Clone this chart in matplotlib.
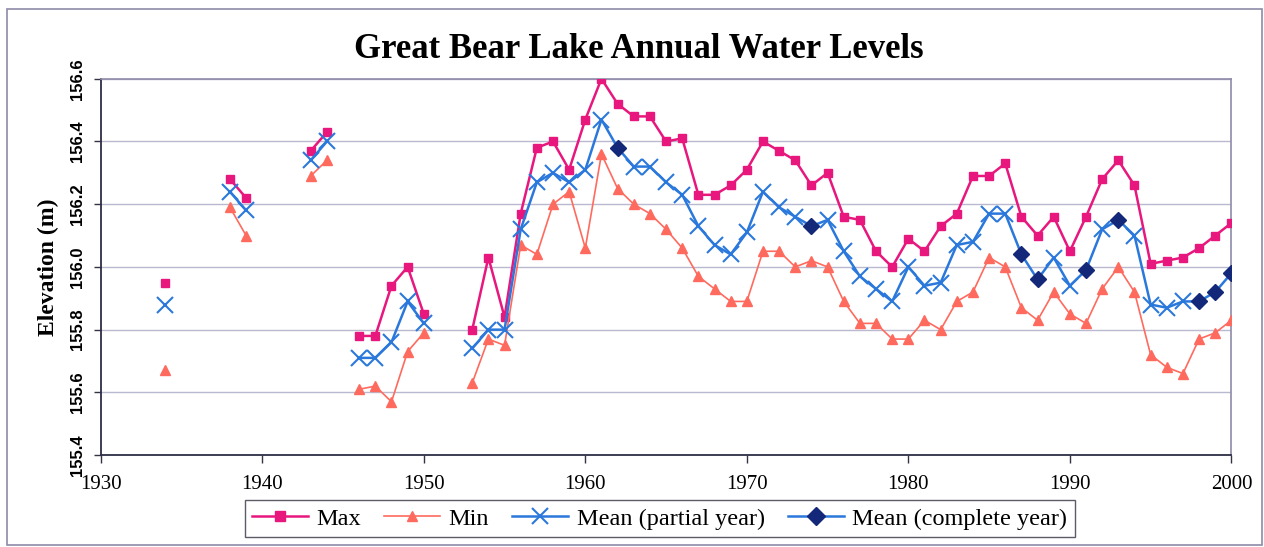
import numpy as np
import matplotlib
matplotlib.use('Agg')
import matplotlib.pyplot as plt
from matplotlib.lines import Line2D
from matplotlib.patches import Rectangle

nan = np.nan

years = list(range(1934, 2001))

# annual maximum, minimum and mean elevations (m); nan = no record
max_level = [155.95, nan, nan, nan, 156.28, 156.22, nan, nan, nan, 156.37,
             156.43, nan, 155.78, 155.78, 155.94, 156.00, 155.85, nan, nan, 155.80,
             156.03, 155.84, 156.17, 156.38, 156.40, 156.31, 156.47, 156.60, 156.52, 156.48,
             156.48, 156.40, 156.41, 156.23, 156.23, 156.26, 156.31, 156.40, 156.37, 156.34,
             156.26, 156.30, 156.16, 156.15, 156.05, 156.00, 156.09, 156.05, 156.13, 156.17,
             156.29, 156.29, 156.33, 156.16, 156.10, 156.16, 156.05, 156.16, 156.28, 156.34,
             156.26, 156.01, 156.02, 156.03, 156.06, 156.10, 156.14]

min_level = [155.67, nan, nan, nan, 156.19, 156.10, nan, nan, nan, 156.29,
             156.34, nan, 155.61, 155.62, 155.57, 155.73, 155.79, nan, nan, 155.63,
             155.77, 155.75, 156.07, 156.04, 156.20, 156.24, 156.06, 156.36, 156.25, 156.20,
             156.17, 156.12, 156.06, 155.97, 155.93, 155.89, 155.89, 156.05, 156.05, 156.00,
             156.02, 156.00, 155.89, 155.82, 155.82, 155.77, 155.77, 155.83, 155.80, 155.89,
             155.92, 156.03, 156.00, 155.87, 155.83, 155.92, 155.85, 155.82, 155.93, 156.00,
             155.92, 155.72, 155.68, 155.66, 155.77, 155.79, 155.83]

mean_level = [155.88, nan, nan, nan, 156.24, 156.18, nan, nan, nan, 156.34,
              156.40, nan, 155.71, 155.71, 155.76, 155.89, 155.82, nan, nan, 155.74,
              155.80, 155.80, 156.12, 156.27, 156.30, 156.27, 156.31, 156.47, 156.38, 156.32,
              156.32, 156.27, 156.23, 156.13, 156.07, 156.04, 156.11, 156.24, 156.19, 156.16,
              156.13, 156.15, 156.05, 155.97, 155.93, 155.89, 156.00, 155.94, 155.95, 156.07,
              156.08, 156.17, 156.17, 156.04, 155.96, 156.03, 155.94, 155.99, 156.12, 156.15,
              156.10, 155.88, 155.87, 155.89, 155.89, 155.92, 155.98]

complete_years = [1962, 1974, 1987, 1988, 1991, 1993, 1998, 1999, 2000]

c_max = '#E8177D'
c_min = '#FF6A5E'
c_mean = '#2A78DC'
c_comp = '#14287A'
grid_c = '#B9B9CF'

years = np.array(years)
mean_arr = np.array(mean_level)
is_comp = np.isin(years, complete_years)
mean_partial = np.where(is_comp, nan, mean_arr)
mean_complete = np.where(is_comp, mean_arr, nan)

fig = plt.figure(figsize=(12.64, 5.47), dpi=100)
ax = fig.add_axes([0.0797, 0.168, 0.8945, 0.688])

ax.plot(years, max_level, color=c_max, lw=1.8, marker='s', ms=6, mec=c_max, mfc=c_max, zorder=3)
ax.plot(years, min_level, color=c_min, lw=1.2, marker='^', ms=6.5, mec=c_min, mfc=c_min, zorder=3)
ax.plot(years, mean_arr, color=c_mean, lw=1.8, zorder=4)
ax.plot(years, mean_partial, ls='none', marker='x', ms=11, mew=1.5, color=c_mean, zorder=5)
ax.plot(years, mean_complete, ls='none', marker='D', ms=8, color=c_comp, mec=c_comp, zorder=6)

ax.set_xlim(1930, 2000)
ax.set_ylim(155.4, 156.6)
ax.set_xticks(range(1930, 2001, 10))
ax.set_yticks(np.round(np.arange(155.4, 156.61, 0.2), 1))
ax.set_yticklabels([f'{v:.1f}' for v in np.arange(155.4, 156.61, 0.2)],
                   rotation=90, va='center', family='Liberation Sans',
                   fontweight='bold', fontsize=12)
for lab in ax.get_xticklabels():
    lab.set_family('Liberation Serif')
    lab.set_fontsize(15)
ax.tick_params(axis='x', direction='out', length=6, width=1, color='#333344', pad=8)
ax.tick_params(axis='y', direction='out', length=5, width=1, color='#333344', pad=6)
ax.yaxis.grid(True, color=grid_c, lw=1)
ax.set_axisbelow(True)

for side in ['left', 'bottom']:
    ax.spines[side].set_color('#2E2E45')
    ax.spines[side].set_linewidth(1.3)
for side in ['top', 'right']:
    ax.spines[side].set_color('#8E8AA8')
    ax.spines[side].set_linewidth(1.2)

ax.set_ylabel('Elevation (m)', family='Liberation Serif', fontweight='bold',
              fontsize=17, labelpad=8)
fig.text(0.505, 0.910, 'Great Bear Lake Annual Water Levels', ha='center', va='center',
         family='Liberation Serif', fontweight='bold', fontsize=25)

handles = [
    Line2D([], [], color=c_max, lw=1.8, marker='s', ms=7),
    Line2D([], [], color=c_min, lw=1.2, marker='^', ms=7.5),
    Line2D([], [], color=c_mean, lw=1.8, marker='x', ms=12, mew=1.5),
    Line2D([], [], color=c_mean, lw=1.8, marker='D', ms=9, mfc=c_comp, mec=c_comp),
]
labels = ['Max', 'Min', 'Mean (partial year)', 'Mean (complete year)']
leg = fig.legend(handles, labels, loc='center', bbox_to_anchor=(0.522, 0.052), ncol=4,
                 prop={'family': 'Liberation Serif', 'size': 17.5}, frameon=True,
                 fancybox=False, edgecolor='#333344', handlelength=2.3,
                 handletextpad=0.35, columnspacing=0.95, borderpad=0.3)
leg.get_frame().set_linewidth(1.0)

fig.patches.append(Rectangle((7 / 1264, 2 / 547), 1255 / 1264, 536 / 547,
                             transform=fig.transFigure, fill=False,
                             edgecolor='#8E8AA8', lw=1.2))

fig.savefig('out.png', dpi=100)
